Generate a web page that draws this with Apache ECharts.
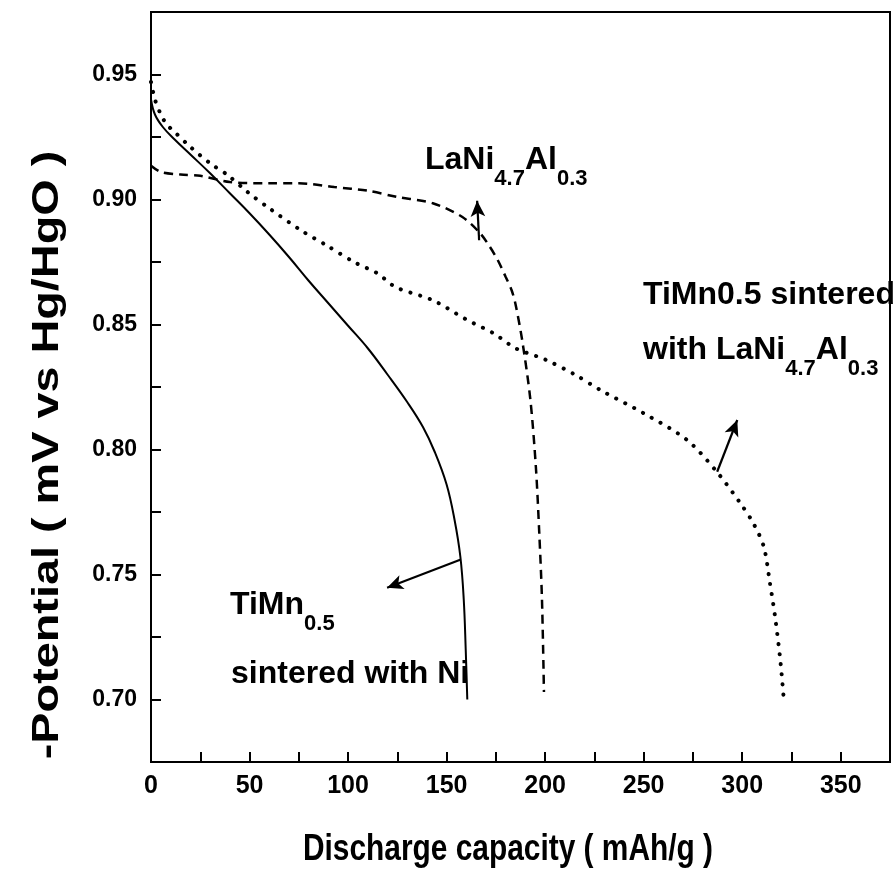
<!DOCTYPE html>
<html>
<head>
<meta charset="utf-8">
<script src="https://cdn.jsdelivr.net/npm/echarts@6/dist/echarts.min.js"></script>
<style>
  html, body { margin: 0; padding: 0; background: #fff; }
  #chart { width: 895px; height: 873px; }
</style>
</head>
<body>
<div id="chart"></div>
<script>
  // discharge capacity (mAh/g) / potential (-V vs Hg/HgO)
  var niCap = [0, 2, 6, 12, 20, 30, 40, 50, 60, 70, 80, 90, 100, 110, 120, 130, 138, 144, 150, 154, 157, 158.7, 159.7, 160.5]
  var niPot = [0.940, 0.934, 0.929, 0.924, 0.918, 0.9105, 0.9025, 0.8945, 0.886, 0.877, 0.8675, 0.8585, 0.8495, 0.8405, 0.830, 0.819, 0.809, 0.799, 0.786, 0.772, 0.757, 0.740, 0.720, 0.700]

  var laniCap = [0, 5, 15, 25, 40, 60, 75, 93, 110, 125, 143, 158, 167, 172, 176, 180, 183, 185, 188.5, 192.5, 195.3, 197, 198.4, 199.4]
  var laniPot = [0.9135, 0.911, 0.910, 0.9095, 0.907, 0.9065, 0.9065, 0.905, 0.9035, 0.901, 0.8985, 0.893, 0.8865, 0.881, 0.8757, 0.869, 0.8637, 0.858, 0.843, 0.820, 0.793, 0.767, 0.740, 0.703]

  var mixCap = [0, 2, 5, 8, 12, 20, 30, 39, 49, 60, 76, 89, 103, 115, 124, 143, 160, 174, 185, 200, 215, 228, 250, 272, 287, 299, 306, 311, 314, 316.7, 319.3, 321]
  var mixPot = [0.947, 0.940, 0.934, 0.930, 0.927, 0.921, 0.9145, 0.9097, 0.903, 0.8965, 0.8877, 0.8817, 0.875, 0.8704, 0.865, 0.8597, 0.852, 0.8464, 0.8405, 0.836, 0.830, 0.8238, 0.8145, 0.8038, 0.7912, 0.7786, 0.770, 0.761, 0.747, 0.733, 0.716, 0.701]

  // arrows: [from, to] in data coordinates
  var arrowLani = [[166.5, 0.8837], [165.5, 0.8995]]
  var arrowMix = [[287.3, 0.7911], [297.5, 0.8118]]
  var arrowNi = [[156.9, 0.7559], [119.8, 0.7447]]

  var xTicks = [0, 50, 100, 150, 200, 250, 300, 350]
  var yTicks = [0.70, 0.75, 0.80, 0.85, 0.90, 0.95]

  function pairs (xs, ys) {
    var res = []
    for (var i = 0; i < xs.length; i++) {
      res.push([xs[i], ys[i]])
    }
    return res
  }

  function arrow (a) {
    return {
      silent: true,
      animation: false,
      symbol: ['none', 'arrow'],
      symbolSize: [11, 16],
      label: {show: false},
      lineStyle: {color: '#000', width: 2.2, type: 'solid'},
      data: [[{coord: a[0]}, {coord: a[1]}]]
    }
  }

  var FONT = '"Liberation Sans", Arial, sans-serif'

  var rich = {
    m: {fontSize: 32, fontWeight: 'bold', fontFamily: FONT, lineHeight: 36, verticalAlign: 'top', color: '#000'},
    s: {fontSize: 22, fontWeight: 'bold', fontFamily: FONT, lineHeight: 22, verticalAlign: 'top', padding: [24, 0, 0, 0], color: '#000'}
  }

  function label (x, y, text) {
    return {
      type: 'text',
      x: x,
      y: y,
      silent: true,
      style: {text: text, rich: rich, align: 'left', verticalAlign: 'top', fill: '#000'}
    }
  }

  var chart = echarts.init(document.getElementById('chart'))
  chart.setOption({
    animation: false,
    backgroundColor: '#fff',
    grid: {
      left: 151, right: 5, top: 12, bottom: 111,
      show: true, borderColor: '#000', borderWidth: 2
    },
    xAxis: {
      type: 'value',
      min: 0,
      max: 375,
      interval: 25,
      axisLine: {lineStyle: {color: '#000', width: 2}},
      axisTick: {inside: true, length: 10, lineStyle: {color: '#000', width: 2}},
      splitLine: {show: false},
      axisLabel: {
        margin: 12,
        color: '#000',
        fontSize: 25,
        fontWeight: 'bold',
        fontFamily: FONT,
        formatter: function (v) {
          return xTicks.indexOf(Math.round(v)) >= 0 && Math.abs(v - Math.round(v)) < 1e-6 ? String(Math.round(v)) : ''
        }
      }
    },
    yAxis: {
      type: 'value',
      min: 0.675,
      max: 0.975,
      interval: 0.025,
      axisLine: {lineStyle: {color: '#000', width: 2}},
      axisTick: {inside: true, length: 10, lineStyle: {color: '#000', width: 2}},
      splitLine: {show: false},
      axisLabel: {
        margin: 14,
        color: '#000',
        fontSize: 23,
        fontWeight: 'bold',
        fontFamily: FONT,
        formatter: function (v) {
          for (var i = 0; i < yTicks.length; i++) {
            if (Math.abs(v - yTicks[i]) < 1e-6) return yTicks[i].toFixed(2)
          }
          return ''
        }
      }
    },
    graphic: [
      // axis titles (the original lettering is stretched)
      {
        type: 'text', x: 508, y: 850, scaleX: 0.83, silent: true,
        style: {text: 'Discharge capacity ( mAh/g )', fontSize: 36, fontWeight: 'bold', fontFamily: FONT, fill: '#000', align: 'center', verticalAlign: 'middle'}
      },
      {
        type: 'text', x: 48, y: 455, rotation: Math.PI / 2, scaleX: 1.3, silent: true,
        style: {text: '-Potential ( mV vs Hg/HgO )', fontSize: 36, fontWeight: 'bold', fontFamily: FONT, fill: '#000', align: 'center', verticalAlign: 'middle'}
      },
      label(425, 144, '{m|LaNi}{s|4.7}{m|Al}{s|0.3}'),
      label(643, 279, '{m|TiMn0.5 sintered}'),
      label(643, 334, '{m|with LaNi}{s|4.7}{m|Al}{s|0.3}'),
      label(230, 589, '{m|TiMn}{s|0.5}'),
      label(231, 658, '{m|sintered with Ni}')
    ],
    series: [
      {
        name: 'TiMn0.5 sintered with Ni',
        type: 'line',
        data: pairs(niCap, niPot),
        showSymbol: false,
        smooth: 0.4,
        lineStyle: {color: '#000', width: 2},
        markLine: arrow(arrowNi)
      },
      {
        name: 'LaNi4.7Al0.3',
        type: 'line',
        data: pairs(laniCap, laniPot),
        showSymbol: false,
        smooth: 0.3,
        lineStyle: {color: '#000', width: 2.5, type: [9, 6]},
        markLine: arrow(arrowLani)
      },
      {
        name: 'TiMn0.5 sintered with LaNi4.7Al0.3',
        type: 'line',
        data: pairs(mixCap, mixPot),
        showSymbol: false,
        smooth: 0.3,
        lineStyle: {color: '#000', width: 4, type: [0.1, 10], cap: 'round'},
        markLine: arrow(arrowMix)
      }
    ]
  })
</script>
</body>
</html>
